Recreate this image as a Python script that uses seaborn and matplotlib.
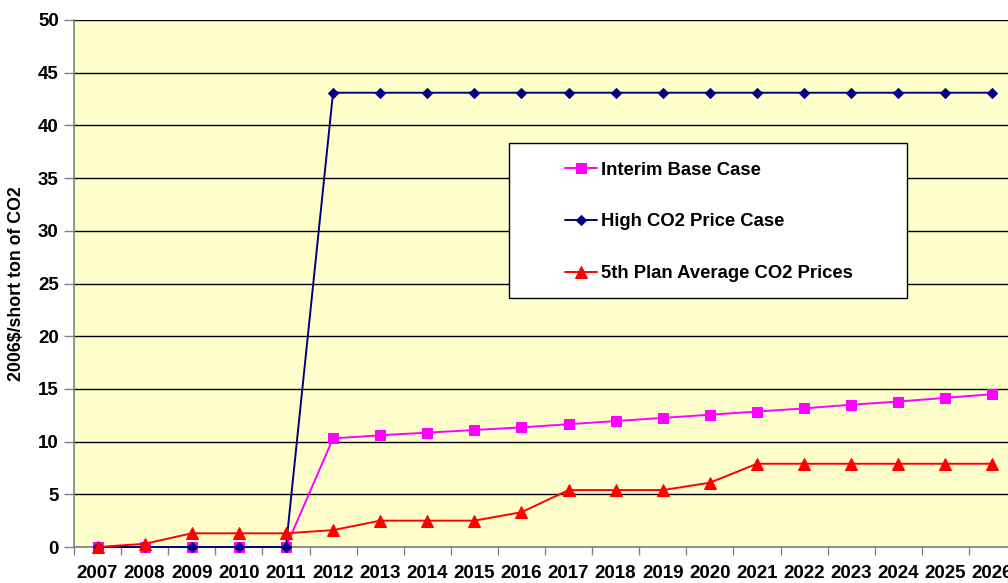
import matplotlib
matplotlib.use("Agg")
import matplotlib.pyplot as plt
import seaborn as sns
import pandas as pd
import numpy as np
from matplotlib.patches import Rectangle
from matplotlib.ticker import FixedLocator, MultipleLocator

years = ["2007", "2008", "2009", "2010", "2011", "2012", "2013", "2014", "2015", "2016",
         "2017", "2018", "2019", "2020", "2021", "2022", "2023", "2024", "2025", "2026"]
interim_base = [0, 0, 0, 0, 0, 10.3, 10.6, 10.85, 11.1, 11.35,
                11.65, 11.95, 12.25, 12.55, 12.85, 13.15, 13.5, 13.8, 14.15, 14.5]
high_co2 = [0, 0, 0, 0, 0, 43.1, 43.1, 43.1, 43.1, 43.1,
            43.1, 43.1, 43.1, 43.1, 43.1, 43.1, 43.1, 43.1, 43.1, 43.1]
fifth_plan = [0, 0.3, 1.3, 1.3, 1.3, 1.6, 2.5, 2.5, 2.5, 3.3,
              5.4, 5.4, 5.4, 6.1, 7.9, 7.9, 7.9, 7.9, 7.9, 7.9]
series_names = ["Interim Base Case", "High CO2 Price Case", "5th Plan Average CO2 Prices"]

sns.set_style("white")
plt.rcParams['font.family'] = ['Liberation Sans', 'DejaVu Sans']
plt.rcParams['font.weight'] = 'bold'
for k in ["text.color", "axes.labelcolor", "xtick.labelcolor", "ytick.labelcolor"]:
    plt.rcParams[k] = "black"

fig = plt.figure(figsize=(10.08, 5.83), dpi=100)
ax = fig.add_axes([74 / 1008, 36 / 583, 942 / 1008, 527 / 583])
ax.set_facecolor("#FFFFCC")

idx = np.arange(len(years))
df = pd.DataFrame({"idx": idx, "interim": interim_base, "high": high_co2, "fifth": fifth_plan})

sns.lineplot(data=df, x="idx", y="interim", ax=ax, color="#FF00FF", marker="s",
             markersize=7, markeredgecolor="#FF00FF", linewidth=1.4, label=series_names[0],
             zorder=3, clip_on=False)
sns.lineplot(data=df, x="idx", y="high", ax=ax, color="#000080", marker="D",
             markersize=5.5, markeredgecolor="#000080", linewidth=1.4, label=series_names[1],
             zorder=3, clip_on=False)
sns.lineplot(data=df, x="idx", y="fifth", ax=ax, color="#FF0000", marker="^",
             markersize=8.5, markeredgecolor="#FF0000", linewidth=1.4, label=series_names[2],
             zorder=3, clip_on=False)

ax.set_xlim(-0.5, len(years) - 0.5)
ax.set_ylim(0, 50)
ax.yaxis.set_major_locator(MultipleLocator(5))
ax.set_xticks(idx)
ax.set_xticklabels(years, fontsize=13.5, fontweight="bold")
ax.xaxis.set_minor_locator(FixedLocator(np.arange(-0.5, len(years), 1.0)))
ax.tick_params(axis="x", which="major", length=0, pad=13)
ax.tick_params(axis="x", which="minor", length=6, width=1, color="#808080", direction="out", bottom=True)
ax.tick_params(axis="y", which="major", length=7, width=1, color="#808080", direction="out",
               left=True, labelsize=13.5, pad=4)
for lab in ax.get_yticklabels():
    lab.set_fontweight("bold")

ax.grid(axis="y", color="#000000", linewidth=1.0, zorder=1)
ax.set_axisbelow(True)
ax.set_xlabel("")
ax.set_ylabel("2006$/short ton of CO2", fontsize=12.8, fontweight="bold", labelpad=9)

for s in ["top", "right"]:
    ax.spines[s].set_visible(False)
for s in ["left", "bottom"]:
    ax.spines[s].set_color("#808080")
    ax.spines[s].set_linewidth(1.2)

# legend frame
frame = Rectangle((0.462, 0.4725), 0.422, 0.2945, transform=ax.transAxes,
                  facecolor="white", edgecolor="black", linewidth=1.0, zorder=4)
ax.add_patch(frame)
leg = ax.legend(loc="center left", bbox_to_anchor=(0.521, 0.6167), frameon=False,
                borderpad=0, borderaxespad=0, handlelength=1.75, handletextpad=0.22,
                labelspacing=1.88, prop={"size": 13.3, "weight": "bold"})
leg.set_zorder(5)

fig.savefig("out.png", dpi=100)
